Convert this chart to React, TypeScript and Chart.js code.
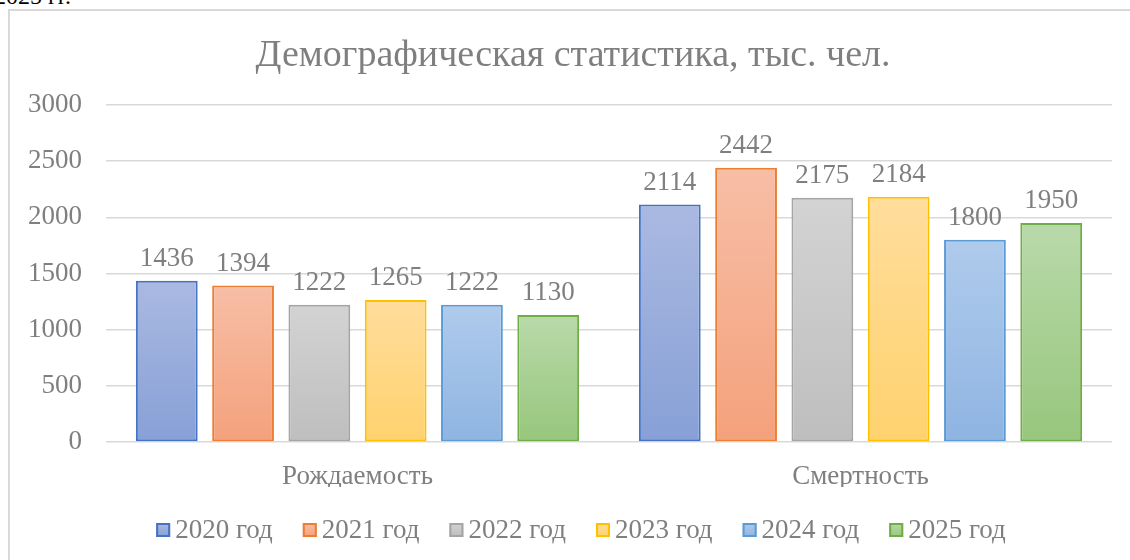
import React, { useEffect, useRef } from "react";
import { Chart, registerables } from "chart.js";

Chart.register(...registerables);

const categories = ["Рождаемость", "Смертность"];
const seriesLabels = ["2020 год", "2021 год", "2022 год", "2023 год", "2024 год", "2025 год"];
const values2020 = [1436, 2114];
const values2021 = [1394, 2442];
const values2022 = [1222, 2175];
const values2023 = [1265, 2184];
const values2024 = [1222, 1800];
const values2025 = [1130, 1950];
const seriesValues = [values2020, values2021, values2022, values2023, values2024, values2025];
const yTicks = [0, 500, 1000, 1500, 2000, 2500, 3000];
const titleText = "Демографическая статистика, тыс. чел.";

const topColors = ["#aab9e1", "#f7bea6", "#d3d3d3", "#ffdd9c", "#afcbec", "#b9d9aa"];
const bottomColors = ["#87a0d6", "#f4a17c", "#bebebe", "#ffd26e", "#8fb4e2", "#97c67c"];
const borderColors = ["#4472c4", "#ed7d31", "#a5a5a5", "#ffc000", "#5b9bd5", "#70ad47"];

const FONT = "'Liberation Serif', 'Times New Roman', serif";
const TEXT = "#7f7f7f";
const FS = 27;
const CW = 1146;

const titlePlugin = {
  id: "centeredTitle",
  afterDraw(chart: any) {
    const ctx = chart.ctx;
    ctx.save();
    ctx.font = `38px ${FONT}`;
    ctx.fillStyle = TEXT;
    ctx.textAlign = "center";
    ctx.textBaseline = "middle";
    ctx.fillText(titleText, chart.width / 2, chart.chartArea.top - 49);
    ctx.restore();
  },
};

const dataLabelPlugin = {
  id: "dataLabels",
  afterDatasetsDraw(chart: any) {
    const ctx = chart.ctx;
    ctx.save();
    ctx.font = `${FS}px ${FONT}`;
    ctx.fillStyle = TEXT;
    ctx.textAlign = "center";
    ctx.textBaseline = "middle";
    chart.data.datasets.forEach((ds: any, i: number) => {
      const meta = chart.getDatasetMeta(i);
      meta.data.forEach((el: any, j: number) => {
        ctx.fillText(String(ds.data[j]), el.x, el.y - 22);
      });
    });
    ctx.restore();
  },
};

const legendPlugin = {
  id: "customLegend",
  afterDraw(chart: any) {
    const ctx = chart.ctx;
    const box = 14;
    const gapBoxText = 5;
    const gapItems = 30;
    ctx.save();
    ctx.font = `${FS}px ${FONT}`;
    const items = chart.data.datasets.map((ds: any, i: number) => ({
      text: ds.label,
      w: ctx.measureText(ds.label).width,
      i,
    }));
    const total =
      items.reduce((s: number, it: any) => s + box + gapBoxText + it.w, 0) + gapItems * (items.length - 1);
    let x = chart.width / 2 - total / 2 + 8;
    const y = chart.chartArea.bottom + 88;
    ctx.textBaseline = "middle";
    ctx.textAlign = "left";
    items.forEach((it: any) => {
      const g = ctx.createLinearGradient(0, y - box / 2, 0, y + box / 2);
      g.addColorStop(0, topColors[it.i]);
      g.addColorStop(1, bottomColors[it.i]);
      ctx.fillStyle = g;
      ctx.fillRect(x, y - box / 2, box, box);
      ctx.strokeStyle = borderColors[it.i];
      ctx.lineWidth = 2;
      ctx.strokeRect(x + 1, y - box / 2 + 1, box - 2, box - 2);
      ctx.fillStyle = TEXT;
      ctx.fillText(it.text, x + box + gapBoxText, y + 1);
      x += box + gapBoxText + it.w + gapItems;
    });
    ctx.restore();
  },
};

export default function App() {
  const ref = useRef<HTMLCanvasElement | null>(null);

  useEffect(() => {
    if (!ref.current) return;
    const datasets = seriesLabels.map((label, i) => ({
      label,
      data: seriesValues[i],
      borderColor: borderColors[i],
      borderWidth: 2,
      borderSkipped: false,
      backgroundColor: (c: any) => {
        const chart = c.chart;
        const { chartArea, scales } = chart;
        if (!chartArea || c.type !== "data" || !scales.y) return topColors[i];
        const v = c.raw as number;
        const yTop = scales.y.getPixelForValue(v);
        const yBot = scales.y.getPixelForValue(0);
        if (!isFinite(yTop) || !isFinite(yBot) || yTop === yBot) return topColors[i];
        const g = chart.ctx.createLinearGradient(0, yTop, 0, yBot);
        g.addColorStop(0, topColors[i]);
        g.addColorStop(1, bottomColors[i]);
        return g;
      },
      categoryPercentage: 0.91,
      barPercentage: 0.81,
    }));

    const chart = new Chart(ref.current, {
      type: "bar",
      data: { labels: categories, datasets },
      plugins: [dataLabelPlugin, legendPlugin, titlePlugin],
      options: {
        animation: false,
        responsive: false,
        maintainAspectRatio: false,
        layout: { padding: { left: 4, right: CW - 1112, top: 105, bottom: 73 } },
        plugins: {
          tooltip: { enabled: false },
          legend: { display: false },
          title: { display: false },
        },
        scales: {
          x: {
            grid: { display: false },
            border: { display: false },
            ticks: { color: TEXT, font: { family: FONT, size: FS }, padding: 11 },
            afterFit: (axis: any) => {
              axis.height = 45;
            },
          },
          y: {
            min: 0,
            max: 3000,
            afterBuildTicks: (axis: any) => {
              axis.ticks = yTicks.map((v) => ({ value: v }));
            },
            grid: { color: "#d9d9d9", lineWidth: 1.5, drawTicks: false },
            border: { display: false },
            ticks: {
              color: TEXT,
              font: { family: FONT, size: FS },
              padding: 24,
              callback: (v: any) => String(v),
            },
          },
        },
      },
    });
    return () => chart.destroy();
  }, []);

  return (
    <div style={{ position: "fixed", left: 0, top: 0, width: 1130, height: 560, overflow: "hidden", background: "#fff" }}>
      <div
        style={{
          position: "absolute",
          right: 1059,
          top: -16,
          font: `24px ${FONT}`,
          lineHeight: "24px",
          color: "#000",
          whiteSpace: "nowrap",
        }}
      >
        2020–2025 гг.
      </div>
      <div
        style={{
          position: "absolute",
          left: 8,
          top: 9,
          width: 1200,
          height: 600,
          border: "2px solid #d9d9d9",
          background: "#fff",
        }}
      />
      <canvas ref={ref} width={CW} height={560} style={{ position: "absolute", left: 0, top: 0, width: CW, height: 560 }} />
    </div>
  );
}
